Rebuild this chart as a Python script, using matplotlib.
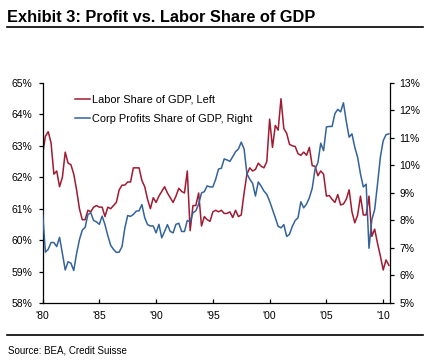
import matplotlib
matplotlib.use("Agg")
import matplotlib.pyplot as plt
from matplotlib.lines import Line2D
from matplotlib.ticker import FuncFormatter

plt.rcParams["font.family"] = ["Liberation Sans", "DejaVu Sans"]

# quarterly data, 1980Q1 .. 2010Q3
start_year = 1980
labor_share = [
    62.7, 63.3, 63.45, 63.1,      # 1980
    62.1, 62.2, 61.7, 62.0,       # 1981
    62.8, 62.45, 62.4, 62.1,      # 1982
    61.6, 61.0, 60.65, 60.65,     # 1983
    60.95, 60.9, 61.05, 61.1,     # 1984
    61.05, 61.05, 60.75, 61.05,   # 1985
    61.0, 61.1, 61.2, 61.6,       # 1986
    61.75, 61.75, 61.85, 61.85,   # 1987
    62.3, 62.3, 62.3, 61.9,       # 1988
    61.7, 61.3, 61.0, 61.35,      # 1989
    61.2, 61.4, 61.55, 61.7,      # 1990
    61.5, 61.35, 61.2, 61.4,      # 1991
    61.65, 61.55, 61.5, 62.2,     # 1992
    60.3, 61.1, 61.1, 61.5,       # 1993
    60.45, 60.75, 60.65, 60.6,    # 1994
    60.9, 60.95, 60.9, 60.95,     # 1995
    60.85, 60.85, 60.9, 60.72,    # 1996
    60.95, 60.75, 60.8, 61.5,     # 1997
    62.1, 62.3, 62.2, 62.25,      # 1998
    62.45, 62.35, 62.3, 62.5,     # 1999
    63.85, 62.95, 63.65, 63.5,    # 2000
    64.5, 63.55, 63.4, 63.05,     # 2001
    63.0, 62.98, 62.75, 62.7,     # 2002
    62.8, 62.7, 62.95, 62.37,     # 2003
    62.35, 62.05, 62.2, 62.1,     # 2004
    61.4, 61.42, 61.3, 61.2,      # 2005
    61.45, 61.12, 61.15, 61.3,    # 2006
    61.6, 60.9, 60.55, 60.8,      # 2007
    61.4, 60.8, 60.8, 61.4,       # 2008
    60.12, 60.35, 59.9, 59.5,     # 2009
    59.05, 59.37, 59.2,           # 2010
]
profit_share = [
    8.34, 6.85, 6.95, 7.2,        # 1980
    7.2, 7.05, 7.39, 6.8,         # 1981
    6.2, 6.5, 6.45, 6.18,         # 1982
    6.8, 7.3, 7.65, 7.75,         # 1983
    8.22, 8.28, 8.0, 7.95,        # 1984
    7.86, 8.16, 7.85, 7.45,       # 1985
    7.1, 6.95, 6.84, 6.85,        # 1986
    7.05, 7.73, 8.18, 8.15,       # 1987
    8.22, 8.34, 8.35, 8.58,       # 1988
    8.1, 7.85, 7.8, 7.8,          # 1989
    7.55, 7.86, 7.37, 7.6,        # 1990
    7.85, 7.6, 7.55, 7.86,        # 1991
    7.9, 7.6, 7.6, 8.0,           # 1992
    7.95, 8.28, 8.35, 8.6,        # 1993
    9.0, 9.05, 9.26, 9.22,        # 1994
    9.22, 9.5, 9.87, 9.9,         # 1995
    10.24, 10.2, 10.15, 10.32,    # 1996
    10.5, 10.6, 10.85, 10.6,      # 1997
    9.7, 9.5, 9.35, 8.89,         # 1998
    9.4, 9.25, 9.07, 8.95,        # 1999
    8.7, 8.4, 8.1, 7.79,          # 2000
    7.73, 7.85, 7.42, 7.5,        # 2001
    7.79, 8.0, 8.1, 8.68,         # 2002
    8.46, 8.6, 8.83, 9.17,        # 2003
    9.87, 10.1, 10.81, 10.54,     # 2004
    11.4, 11.42, 11.42, 11.89,    # 2005
    12.04, 11.95, 12.28, 11.6,    # 2006
    11.03, 11.15, 10.66, 10.3,    # 2007
    9.69, 9.22, 9.32, 6.99,       # 2008
    8.03, 8.4, 9.32, 10.3,        # 2009
    10.9, 11.12, 11.15,           # 2010
]
years = [start_year + i / 4 for i in range(len(labor_share))]

x_ticks = [1980, 1985, 1990, 1995, 2000, 2005, 2010]
x_labels = ["'80", "'85", "'90", "'95", "'00", "'05", "'10"]
left_ticks = [58, 59, 60, 61, 62, 63, 64, 65]
right_ticks = [5, 6, 7, 8, 9, 10, 11, 12, 13]

RED = "#A01A31"
BLUE = "#33639A"

fig = plt.figure(figsize=(4.33, 3.61), dpi=100)
ax = fig.add_axes([0.0982, 0.1607, 0.8025, 0.6094])
ax2 = ax.twinx()

l1, = ax.plot(years, labor_share, color=RED, lw=1.1, label="Labor Share of GDP, Left")
l2, = ax2.plot(years, profit_share, color=BLUE, lw=1.1, label="Corp Profits Share of GDP, Right")

ax.set_xlim(1980, 2010.6)
ax.set_ylim(58, 65)
ax2.set_ylim(5, 13)
ax.set_xticks(x_ticks)
ax.set_xticklabels(x_labels)
ax.set_yticks(left_ticks)
ax2.set_yticks(right_ticks)
pct = FuncFormatter(lambda v, p: f"{v:.0f}%")
ax.yaxis.set_major_formatter(pct)
ax2.yaxis.set_major_formatter(pct)

for a in (ax, ax2):
    a.spines["top"].set_visible(False)
    for s in a.spines.values():
        s.set_linewidth(0.9)
ax.spines["right"].set_visible(False)
ax2.spines["left"].set_visible(False)
ax2.spines["bottom"].set_visible(False)

ax.tick_params(axis="y", direction="out", length=3, width=0.9, pad=4.5, labelsize=7.5)
ax2.tick_params(axis="y", direction="out", length=3, width=0.9, pad=3.6, labelsize=7.5)
ax.tick_params(axis="x", direction="in", length=3, width=0.9, pad=6, labelsize=7.5)

ax2.legend(handles=[l1, l2], loc="upper left", bbox_to_anchor=(0.0935, 0.947),
           frameon=False, fontsize=7.9, handlelength=1.4, handletextpad=0.15,
           labelspacing=0.84, borderaxespad=0, borderpad=0)

# header / footer
fig.text(7 / 433, 1 - 17 / 361, "Exhibit 3: Profit vs. Labor Share of GDP",
         fontsize=11.8, fontweight="bold", va="center", ha="left")
fig.add_artist(Line2D([7 / 433, 423 / 433], [1 - 27.3 / 361] * 2, color="black", lw=1.2))
fig.add_artist(Line2D([7 / 433, 423 / 433], [1 - 334.5 / 361] * 2, color="black", lw=1.2))
fig.text(8 / 433, 1 - 350.5 / 361, "Source: BEA, Credit Suisse",
         fontsize=7, va="center", ha="left")

fig.savefig("out.png", dpi=100)
